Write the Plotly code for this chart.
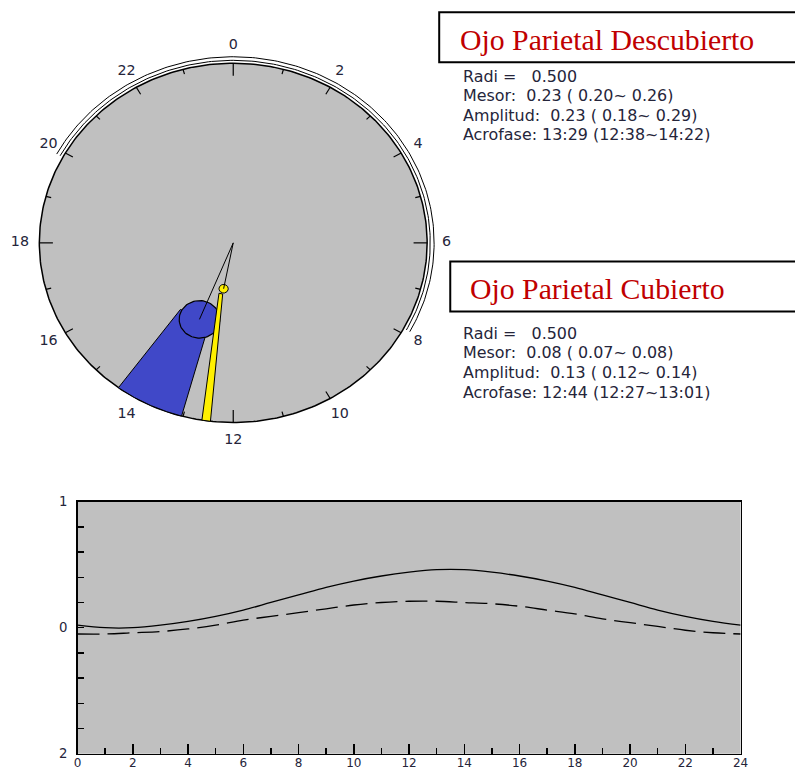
import numpy as np
import plotly.graph_objects as go

# ---------------- data ----------------
clock_labels = ["0", "2", "4", "6", "8", "10", "12", "14", "16", "18", "20", "22"]
clock_label_hours = [0, 2, 4, 6, 8, 10, 12, 14, 16, 18, 20, 22]
radi = 0.5

# Ojo Parietal Descubierto (solid)
desc_amp = 0.23
desc_acro = 13 + 29 / 60
desc_amp_ci = [0.18, 0.29]
desc_wedge_hours = [13.03, 14.42]       # blue wedge edges

# Ojo Parietal Cubierto (dashed)
cub_amp = 0.13
cub_acro = 12 + 44 / 60
cub_amp_ci = [0.12, 0.14]
cub_strip_inner_hours = [12.72, 12.98]  # yellow strip
cub_strip_outer_hours = [12.45, 12.62]

light_arc_hours = [19.9, 31.9]          # outer double arc (19.9h -> 7.9h)

curve_hours = list(range(25))
desc_curve = [0.02, 0.00, 0.00, 0.02, 0.05, 0.09, 0.14, 0.20, 0.26, 0.32, 0.37, 0.41, 0.44,
              0.46, 0.46, 0.44, 0.41, 0.37, 0.32, 0.26, 0.20, 0.14, 0.09, 0.05, 0.02]
cub_curve = [-0.05, -0.05, -0.04, -0.03, -0.01, 0.02, 0.06, 0.09, 0.12, 0.15, 0.18, 0.20, 0.21,
             0.21, 0.20, 0.19, 0.17, 0.14, 0.11, 0.07, 0.04, 0.01, -0.02, -0.04, -0.05]

x_tick_vals = list(range(0, 25, 2))
y_tick_vals = [-1, 0, 1]
y_tick_text = ["2", "0", "1"]

desc_text = ["Radi =\u00a0\u00a0 0.500",
             "Mesor:\u00a0 0.23 ( 0.20~ 0.26)",
             "Amplitud:\u00a0 0.23 ( 0.18~ 0.29)",
             "Acrofase: 13:29 (12:38~14:22)"]
cub_text = ["Radi =\u00a0\u00a0 0.500",
            "Mesor:\u00a0 0.08 ( 0.07~ 0.08)",
            "Amplitud:\u00a0 0.13 ( 0.12~ 0.14)",
            "Acrofase: 12:44 (12:27~13:01)"]

# ---------------- geometry ----------------
W, H = 795, 774
SX, SY, OFF = 811 / 795, 790 / 774, 8     # picture -> page correction
CX, CY, RX, RY = 236, 243.5, 193, 179.5   # clock centre / radii (picture px)
SANS = "DejaVu Sans, Arial"
TXT = "#25253a"


def pgx(p):
    return p * SX - OFF


def pgy(p):
    return p * SY - OFF


def px2x(p):
    return pgx(p) / W


def px2y(p):
    return 1 - pgy(p) / H


def fs(s):
    return s * SX


cxp, cyp, rxp, ryp = pgx(CX), pgy(CY), RX * SX, RY * SY


def xy(r, h):
    a = np.asarray(h, dtype=float) / 24 * 2 * np.pi
    return np.asarray(r) * np.sin(a), np.asarray(r) * np.cos(a)


def ellipse(r0, h0, ar, at, n=80):
    a0 = h0 / 24 * 2 * np.pi
    ur = np.array([np.sin(a0), np.cos(a0)])
    ut = np.array([np.cos(a0), -np.sin(a0)])
    t = np.linspace(0, 2 * np.pi, n)
    c = r0 * ur
    pts = c[:, None] + ar * np.cos(t) * ur[:, None] + at * np.sin(t) * ut[:, None]
    return pts[0], pts[1]


fig = go.Figure()
GRAY = "#c0c0c0"
BLUE = "rgb(64,72,200)"
YEL = "rgb(255,240,0)"

# clock face
hh = np.linspace(0, 24, 361)
x, y = xy(1.0, hh)
fig.add_trace(go.Scatter(x=x, y=y, mode="lines", fill="toself", fillcolor=GRAY,
                         line=dict(color="black", width=1.5), hoverinfo="skip"))
# outer double arc
ah = np.linspace(light_arc_hours[0], light_arc_hours[1], 200)
for rr in (1.016, 1.036):
    x, y = xy(rr, ah)
    fig.add_trace(go.Scatter(x=x, y=y, mode="lines", line=dict(color="black", width=1),
                             hoverinfo="skip"))
# hour ticks
tx, ty = [], []
for h in range(24):
    ln = 0.07 if h % 6 == 0 else (0.045 if h % 2 == 0 else 0.028)
    x, y = xy(np.array([1 - ln, 1.0]), np.array([h, h]))
    tx += list(x) + [None]
    ty += list(y) + [None]
fig.add_trace(go.Scatter(x=tx, y=ty, mode="lines", line=dict(color="black", width=1.2),
                         hoverinfo="skip"))

# blue wedge
r_d = desc_amp / radi
ea = (desc_amp_ci[1] - desc_amp_ci[0]) / 2 / radi * 0.95
wh = np.linspace(desc_wedge_hours[1], desc_wedge_hours[0], 60)
xo, yo = xy(1.0, wh)
xi1, yi1 = xy(r_d, desc_wedge_hours[1])
xi0, yi0 = xy(r_d, desc_wedge_hours[0])
wx = [float(xi1)] + list(xo) + [float(xi0), float(xi1)]
wy = [float(yi1)] + list(yo) + [float(yi0), float(yi1)]
fig.add_trace(go.Scatter(x=wx, y=wy, mode="lines", fill="toself", fillcolor=BLUE,
                         line=dict(color="black", width=1), hoverinfo="skip"))
ex, ey = ellipse(r_d, desc_acro, ea, ea)
fig.add_trace(go.Scatter(x=ex, y=ey, mode="lines", fill="toself", fillcolor=BLUE,
                         line=dict(color="black", width=1.2), hoverinfo="skip"))

# yellow strip + ellipse
r_c = cub_amp / radi
sx_i, sy_i = xy(r_c + 0.03, np.array(cub_strip_inner_hours))
sx_o, sy_o = xy(1.0, np.array(cub_strip_outer_hours))
sx = [sx_i[0], sx_o[0], sx_o[1], sx_i[1], sx_i[0]]
sy = [sy_i[0], sy_o[0], sy_o[1], sy_i[1], sy_i[0]]
fig.add_trace(go.Scatter(x=sx, y=sy, mode="lines", fill="toself", fillcolor=YEL,
                         line=dict(color="black", width=1), hoverinfo="skip"))
ca = (cub_amp_ci[1] - cub_amp_ci[0]) / 2 / radi
ex, ey = ellipse(r_c, cub_acro, ca * 1.2, ca * 1.2)
fig.add_trace(go.Scatter(x=ex, y=ey, mode="lines", fill="toself", fillcolor=YEL,
                         line=dict(color="black", width=1), hoverinfo="skip"))

# vectors from centre
vx, vy = [], []
for r, h in ((r_d, desc_acro), (r_c, cub_acro)):
    x, y = xy(np.array([0, r]), np.array([h, h]))
    vx += list(x) + [None]
    vy += list(y) + [None]
fig.add_trace(go.Scatter(x=vx, y=vy, mode="lines", line=dict(color="black", width=1),
                         hoverinfo="skip"))

# hour labels
lx, ly = xy(1.1, np.array(clock_label_hours))
fig.add_trace(go.Scatter(x=lx, y=ly, mode="text", text=clock_labels,
                         textfont=dict(family=SANS, size=fs(14), color=TXT),
                         hoverinfo="skip"))

# bottom cosine curves
fig.add_trace(go.Scatter(x=curve_hours, y=desc_curve, xaxis="x2", yaxis="y2", mode="lines",
                         line=dict(color="black", width=1.3, shape="spline"), hoverinfo="skip"))
fig.add_trace(go.Scatter(x=curve_hours, y=cub_curve, xaxis="x2", yaxis="y2", mode="lines",
                         line=dict(color="black", width=1.3, shape="spline", dash="22px,8px"),
                         hoverinfo="skip"))

# ---------------- layout ----------------
shapes = [
    dict(type="rect", xref="x2 domain", yref="y2 domain", x0=0, x1=1, y0=0, y1=1,
         fillcolor=GRAY, line=dict(width=0), layer="below"),
    dict(type="rect", xref="paper", yref="paper", x0=px2x(441), x1=1.02, y0=px2y(63), y1=px2y(13),
         line=dict(color="black", width=2)),
    dict(type="rect", xref="paper", yref="paper", x0=px2x(452), x1=1.02, y0=px2y(312), y1=px2y(262),
         line=dict(color="black", width=2)),
]

annotations = [
    dict(text="Ojo Parietal Descubierto", x=px2x(460), y=px2y(40), xref="paper", yref="paper",
         xanchor="left", yanchor="middle", showarrow=False,
         font=dict(family="Liberation Serif, Times New Roman", size=fs(29.2), color="#c00000")),
    dict(text="Ojo Parietal Cubierto", x=px2x(470), y=px2y(289), xref="paper", yref="paper",
         xanchor="left", yanchor="middle", showarrow=False,
         font=dict(family="Liberation Serif, Times New Roman", size=fs(29.2), color="#c00000")),
]
for i, t in enumerate(desc_text):
    annotations.append(dict(text=t, x=px2x(463), y=px2y(77 + 19.5 * i), xref="paper", yref="paper",
                            xanchor="left", yanchor="middle", showarrow=False,
                            font=dict(family=SANS, size=fs(15.6), color=TXT)))
for i, t in enumerate(cub_text):
    annotations.append(dict(text=t, x=px2x(463), y=px2y(334 + 19.5 * i), xref="paper", yref="paper",
                            xanchor="left", yanchor="middle", showarrow=False,
                            font=dict(family=SANS, size=fs(15.6), color=TXT)))

fig.update_layout(
    width=W, height=H, margin=dict(l=0, r=0, t=0, b=0),
    paper_bgcolor="white", plot_bgcolor="rgba(0,0,0,0)", showlegend=False,
    shapes=shapes, annotations=annotations,
    xaxis=dict(domain=[0, 1], range=[-cxp / rxp, (W - cxp) / rxp], visible=False, fixedrange=True),
    yaxis=dict(domain=[0, 1], range=[(cyp - H) / ryp, cyp / ryp], visible=False, fixedrange=True),
    xaxis2=dict(domain=[px2x(81), px2x(741)], anchor="y2", range=[0, 24],
                tickvals=x_tick_vals, ticks="inside", ticklen=10, tickwidth=1.5, tickcolor="black",
                minor=dict(dtick=1, tick0=0, ticks="inside", ticklen=6, tickwidth=1.5, tickcolor="black"),
                showline=True, linecolor="black", linewidth=1.5, mirror=True, showgrid=False,
                zeroline=False, ticklabelstandoff=-3, fixedrange=True,
                tickfont=dict(family=SANS, size=12, color=TXT)),
    yaxis2=dict(domain=[px2y(754), px2y(502)], anchor="x2", range=[-1, 1],
                tickvals=y_tick_vals, ticktext=y_tick_text, ticks="inside", ticklen=6, tickwidth=1.5,
                tickcolor="black",
                minor=dict(dtick=0.2, tick0=0, ticks="inside", ticklen=6, tickwidth=1.5, tickcolor="black"),
                showline=True, linecolor="black", linewidth=1.5, mirror=True, showgrid=False,
                zeroline=False, ticklabelstandoff=6, fixedrange=True,
                tickfont=dict(family=SANS, size=fs(13), color=TXT)),
)

fig.write_html("out.html", config={"displayModeBar": False, "staticPlot": True},
               post_script="document.body.style.margin='0';document.body.style.overflow='hidden';")
